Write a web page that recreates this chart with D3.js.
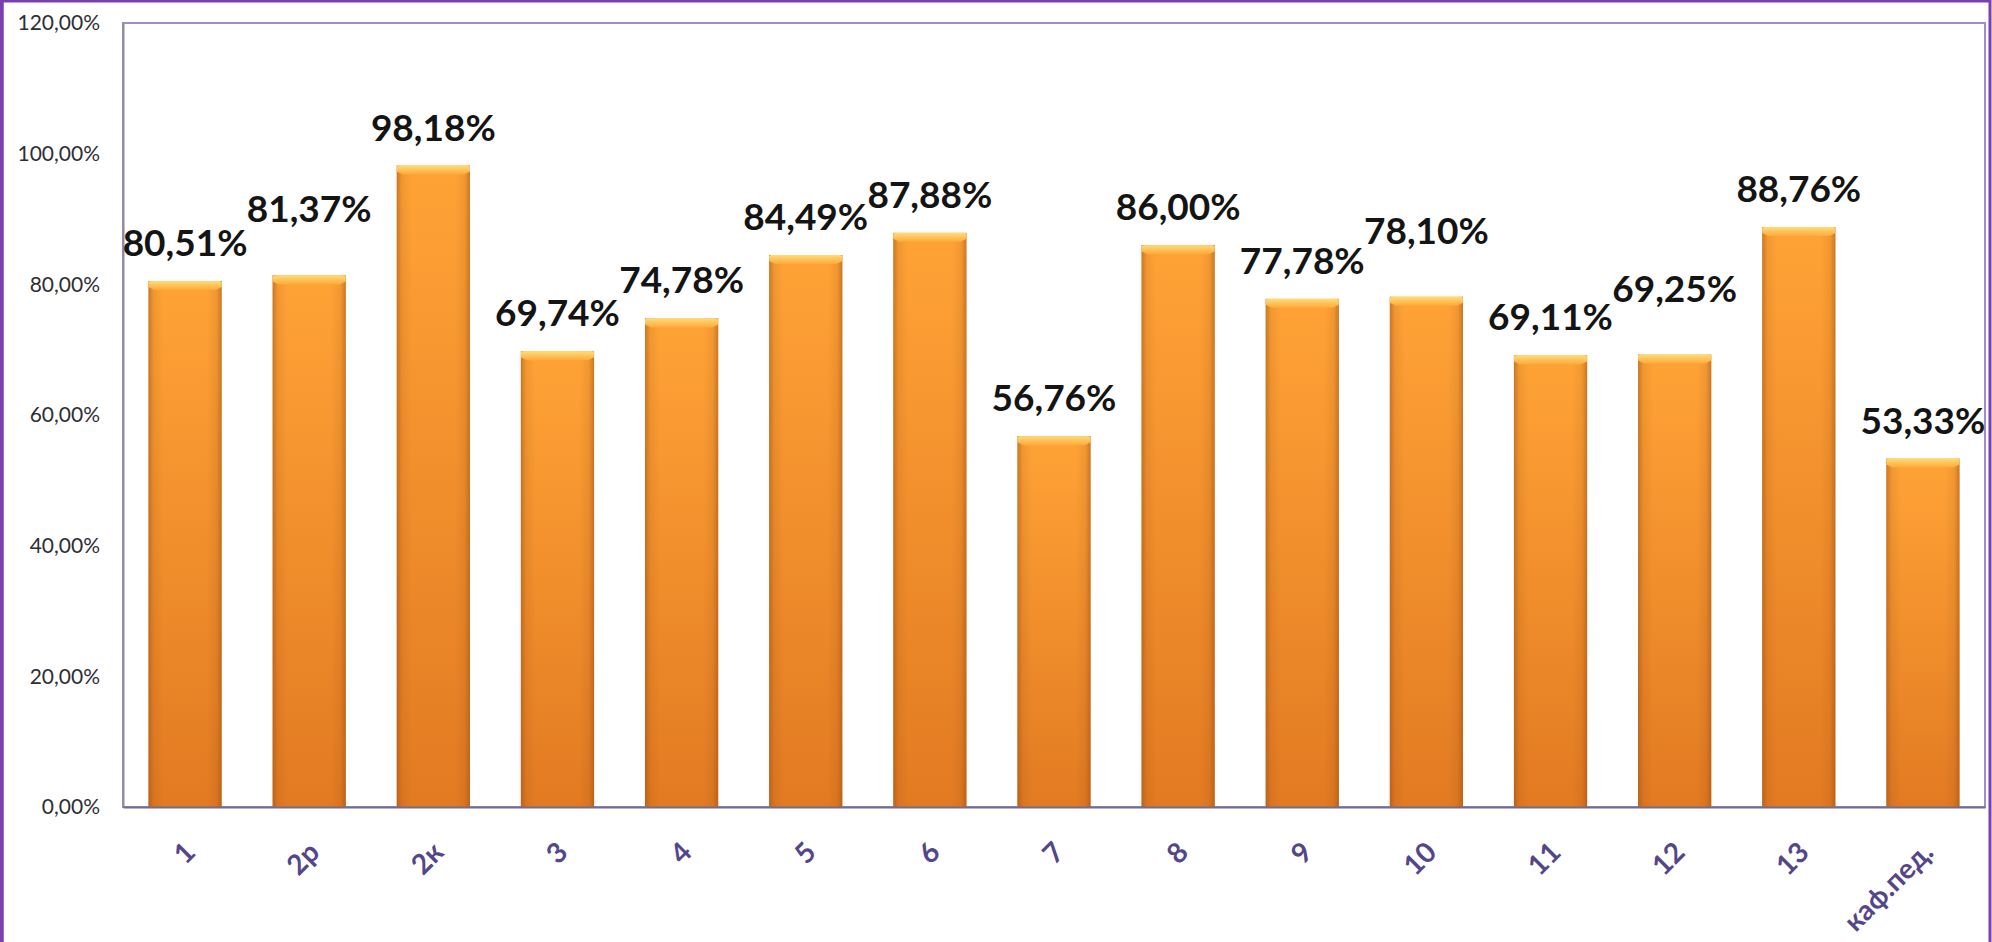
<!DOCTYPE html>
<html>
<head>
<meta charset="utf-8">
<script src="https://cdn.jsdelivr.net/npm/d3@7"></script>
<style>
  html, body { margin: 0; padding: 0; background: #fff; }
  svg { display: block; }
  .axis text { font-family: Lato, "Open Sans", sans-serif; }
  .ylab text { font-size: 21px; fill: #2e2e36; }
  .xlab text { font-size: 28px; font-weight: 700; fill: #54468a; }
  .vlabel { font-family: Lato, "Open Sans", sans-serif; font-weight: 700; font-size: 37px; fill: #141414; }
</style>
</head>
<body>
<div id="chart"></div>
<script>
// categories & values
const categories = ["1", "2р", "2к", "3", "4", "5", "6", "7", "8", "9", "10", "11", "12", "13", "каф.пед."];
const values = [0.8051, 0.8137, 0.9818, 0.6974, 0.7478, 0.8449, 0.8788, 0.5676, 0.8600, 0.7778, 0.7810, 0.6911, 0.6925, 0.8876, 0.5333];
const yTicks = [0, 0.2, 0.4, 0.6, 0.8, 1.0, 1.2];

const W = 1992, H = 942;
const plot = { left: 123, right: 1985, top: 23, bottom: 807 };

const locale = d3.formatLocale({ decimal: ",", thousands: " ", grouping: [3], currency: ["", ""] });
const pct = locale.format(".2%");

const svg = d3.select("#chart").append("svg")
	.attr("width", W)
	.attr("height", H);

// gradients for the bevelled orange bars
const defs = svg.append("defs");
const vGrad = defs.append("linearGradient").attr("id", "barV")
	.attr("x1", 0).attr("y1", 0).attr("x2", 0).attr("y2", 1);
vGrad.append("stop").attr("offset", "0%").attr("stop-color", "#ffa336");
vGrad.append("stop").attr("offset", "100%").attr("stop-color", "#e27a22");

const hGrad = defs.append("linearGradient").attr("id", "barH")
	.attr("x1", 0).attr("y1", 0).attr("x2", 1).attr("y2", 0);
[["0%", 0.45], ["7%", 0.12], ["20%", 0], ["80%", 0], ["93%", 0.12], ["100%", 0.45]].forEach(([o, a]) =>
	hGrad.append("stop").attr("offset", o).attr("stop-color", "#8a4410").attr("stop-opacity", a));

const capGrad = defs.append("linearGradient").attr("id", "barCap")
	.attr("x1", 0).attr("y1", 0).attr("x2", 0).attr("y2", 1);
capGrad.append("stop").attr("offset", "0%").attr("stop-color", "#ffdc78");
capGrad.append("stop").attr("offset", "100%").attr("stop-color", "#ffa93a");

// outer purple frame
svg.append("path")
	.attr("d", `M2,${H} V1 H${W - 2} V${H}`)
	.attr("fill", "none")
	.attr("stroke", "#7b3fae")
	.attr("stroke-width", 3);
svg.append("line")
	.attr("x1", 1.5).attr("x2", 1.5).attr("y1", 0).attr("y2", H)
	.attr("stroke", "#7b3fae").attr("stroke-width", 4);

const x = d3.scaleBand()
	.domain(categories)
	.range([plot.left, plot.right])
	.paddingInner(0.41)
	.paddingOuter(0.205);

const y = d3.scaleLinear()
	.domain([0, 1.2])
	.range([plot.bottom, plot.top]);

// plot area border
svg.append("rect")
	.attr("x", plot.left).attr("y", plot.top)
	.attr("width", plot.right - plot.left)
	.attr("height", plot.bottom - plot.top)
	.attr("fill", "#fff")
	.attr("stroke", "#a48cc9")
	.attr("stroke-width", 2);

// bars
const bars = svg.append("g").selectAll("g")
	.data(values)
	.join("g");

bars.append("rect")
	.attr("x", (d, i) => x(categories[i]))
	.attr("y", d => y(d))
	.attr("width", x.bandwidth())
	.attr("height", d => y(0) - y(d))
	.attr("fill", "url(#barV)");
bars.append("rect")
	.attr("x", (d, i) => x(categories[i]))
	.attr("y", d => y(d))
	.attr("width", x.bandwidth())
	.attr("height", d => y(0) - y(d))
	.attr("fill", "url(#barH)");
bars.append("path")
	.attr("d", (d, i) => {
		const x0 = x(categories[i]), x1 = x0 + x.bandwidth(), t = y(d);
		return `M${x0},${t + 1} L${x0 + 2},${t} H${x1 - 2} L${x1},${t + 1} V${t + 6} L${x1 - 6},${t + 9} H${x0 + 6} L${x0},${t + 6} Z`;
	})
	.attr("fill", "url(#barCap)");

// y axis
svg.append("g")
	.attr("class", "axis ylab")
	.attr("transform", `translate(${plot.left},0)`)
	.call(d3.axisLeft(y).tickValues(yTicks).tickFormat(pct).tickSize(0).tickPadding(23))
	.call(g => g.select(".domain").attr("stroke", "#8d8c98").attr("stroke-width", 2));

// x axis
svg.append("g")
	.attr("class", "axis xlab")
	.attr("transform", `translate(0,${plot.bottom})`)
	.call(d3.axisBottom(x).tickSize(0).tickPadding(0))
	.call(g => g.select(".domain").attr("stroke", "#726c8e").attr("stroke-width", 2))
	.call(g => g.selectAll(".tick text")
		.attr("text-anchor", "end")
		.attr("dy", "0.35em")
		.attr("transform", "translate(5,40) rotate(-45)"));

// value labels, lifted when they collide with the neighbour on the left
const labels = svg.append("g").selectAll("text")
	.data(values)
	.join("text")
	.attr("class", "vlabel")
	.attr("text-anchor", "middle")
	.attr("x", (d, i) => x(categories[i]) + x.bandwidth() / 2)
	.attr("y", d => y(d) - 25)
	.text(d => pct(d));

const nodes = labels.nodes();
for (let i = 1; i < nodes.length; i++) {
	const prev = nodes[i - 1], cur = nodes[i];
	const py = +prev.getAttribute("y"), cy = +cur.getAttribute("y");
	const pb = prev.getBBox(), cb = cur.getBBox();
	const hOverlap = pb.x + pb.width > cb.x - 10;
	if (hOverlap && Math.abs(py - cy) < 18) {
		cur.setAttribute("y", Math.min(cy, py) - 28);
	}
}
</script>
</body>
</html>
